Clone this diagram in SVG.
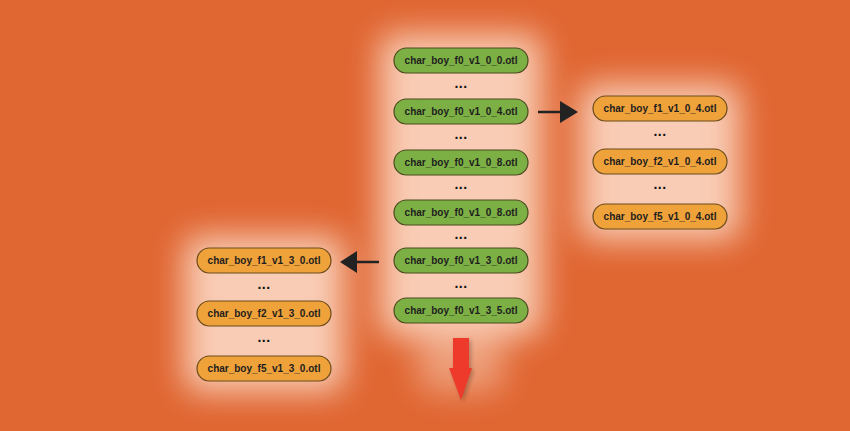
<svg xmlns="http://www.w3.org/2000/svg" width="850" height="431" viewBox="0 0 850 431">
<defs>
<filter id="glow" x="-50%" y="-50%" width="200%" height="200%"><feGaussianBlur stdDeviation="16"/></filter>
<filter id="sh" x="-50%" y="-50%" width="200%" height="200%"><feGaussianBlur stdDeviation="2"/></filter>
<style>
.g rect{fill:#7DB044;stroke:#4A4A1E;stroke-width:1.2}
.o rect{fill:#F0A23A;stroke:#6B4A1A;stroke-width:1.2}
text{font-family:"Liberation Sans",Arial,sans-serif;font-weight:bold;font-size:10px;fill:#1E1E1E;text-anchor:middle}
.dots{font-size:14px;fill:#111;letter-spacing:0.5px}
</style>
</defs>
<rect width="850" height="431" fill="#E06632"/>
<g id="glow-bg" filter="url(#glow)" fill="#FFE6D6" opacity="0.8">
<rect x="380" y="34" width="162" height="302" rx="14"/>
<rect x="418" y="330" width="86" height="62" rx="14" opacity="0.55"/>
<rect x="580" y="84" width="160" height="156" rx="14"/>
<rect x="184" y="236" width="160" height="156" rx="14"/>
</g>
<g id="connectors">
<line x1="538" y1="112" x2="562" y2="112" stroke="#222" stroke-width="2.5"/>
<polygon points="560,101 578,112 560,123" fill="#222"/>
<line x1="379" y1="262" x2="355" y2="262" stroke="#222" stroke-width="2.5"/>
<polygon points="357,251 340,262 357,273" fill="#222"/>
<g id="red-arrow">
<polygon points="455,340 471,340 471,370 474,370 463,402 451,370 455,370" fill="#000" opacity="0.25" filter="url(#sh)"/>
<polygon points="453,338 469,338 469,368 472,368 461,400 449,368 453,368" fill="#EE3A2A"/>
</g>
</g>
<g id="n_f0_0_0" class="g"><rect x="394" y="48" width="134" height="25" rx="12.5"/><text x="461" y="64">char_boy_f0_v1_0_0.otl</text></g>
<text class="dots" x="461" y="88">...</text>
<g id="n_f0_0_4" class="g"><rect x="394" y="99" width="134" height="25" rx="12.5"/><text x="461" y="115">char_boy_f0_v1_0_4.otl</text></g>
<text class="dots" x="461" y="139">...</text>
<g id="n_f0_0_8a" class="g"><rect x="394" y="150" width="134" height="25" rx="12.5"/><text x="461" y="166">char_boy_f0_v1_0_8.otl</text></g>
<text class="dots" x="461" y="189">...</text>
<g id="n_f0_0_8b" class="g"><rect x="394" y="200" width="134" height="25" rx="12.5"/><text x="461" y="216">char_boy_f0_v1_0_8.otl</text></g>
<text class="dots" x="461" y="239">...</text>
<g id="n_f0_3_0" class="g"><rect x="394" y="248" width="134" height="25" rx="12.5"/><text x="461" y="264">char_boy_f0_v1_3_0.otl</text></g>
<text class="dots" x="461" y="288">...</text>
<g id="n_f0_3_5" class="g"><rect x="394" y="298" width="134" height="25" rx="12.5"/><text x="461" y="314">char_boy_f0_v1_3_5.otl</text></g>

<g id="n_f1_0_4" class="o"><rect x="593" y="96" width="134" height="25" rx="12.5"/><text x="660" y="112">char_boy_f1_v1_0_4.otl</text></g>
<text class="dots" x="660" y="136">...</text>
<g id="n_f2_0_4" class="o"><rect x="593" y="149" width="134" height="25" rx="12.5"/><text x="660" y="165">char_boy_f2_v1_0_4.otl</text></g>
<text class="dots" x="660" y="189">...</text>
<g id="n_f5_0_4" class="o"><rect x="593" y="204" width="134" height="25" rx="12.5"/><text x="660" y="220">char_boy_f5_v1_0_4.otl</text></g>

<g id="n_f1_3_0" class="o"><rect x="197" y="248" width="134" height="25" rx="12.5"/><text x="264" y="264">char_boy_f1_v1_3_0.otl</text></g>
<text class="dots" x="264" y="289">...</text>
<g id="n_f2_3_0" class="o"><rect x="197" y="301" width="134" height="25" rx="12.5"/><text x="264" y="317">char_boy_f2_v1_3_0.otl</text></g>
<text class="dots" x="264" y="342">...</text>
<g id="n_f5_3_0" class="o"><rect x="197" y="356" width="134" height="25" rx="12.5"/><text x="264" y="372">char_boy_f5_v1_3_0.otl</text></g>
</svg>
